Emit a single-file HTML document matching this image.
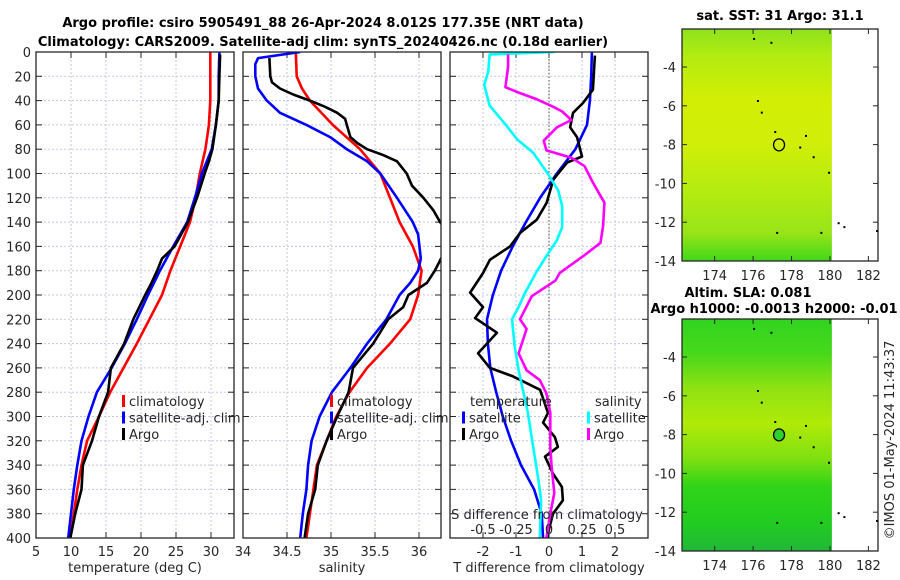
<!DOCTYPE html>
<html><head><meta charset="utf-8">
<style>
body{margin:0;background:#fff;}
svg{display:block;font-family:"DejaVu Sans","Liberation Sans",sans-serif;}
.tk{font-size:13px;fill:#262626;}
.tt{font-size:13px;font-weight:bold;fill:#000;}
</style></head>
<body>
<svg id="chart" width="900" height="580" viewBox="0 0 900 580" xmlns="http://www.w3.org/2000/svg">
<defs>
<linearGradient id="g1" x1="0" y1="0" x2="0" y2="1">
<stop offset="0" stop-color="#8ee21e"/><stop offset="0.12" stop-color="#b4ec10"/>
<stop offset="0.3" stop-color="#d2ee04"/><stop offset="0.5" stop-color="#d0ee08"/>
<stop offset="0.7" stop-color="#b4ec10"/><stop offset="0.88" stop-color="#98e418"/>
<stop offset="1" stop-color="#40d818"/></linearGradient>
<linearGradient id="g2" x1="0" y1="0" x2="0" y2="1">
<stop offset="0" stop-color="#30d420"/><stop offset="0.15" stop-color="#48d81a"/>
<stop offset="0.3" stop-color="#90e212"/><stop offset="0.45" stop-color="#b0ea08"/>
<stop offset="0.6" stop-color="#80e010"/><stop offset="0.72" stop-color="#30d418"/>
<stop offset="0.88" stop-color="#22cc20"/><stop offset="1" stop-color="#20b838"/></linearGradient>
</defs>
<text class="tt" x="323" y="27" text-anchor="middle">Argo profile: csiro 5905491_88 26-Apr-2024 8.012S 177.35E (NRT data)</text>
<text class="tt" x="323" y="46" text-anchor="middle">Climatology: CARS2009. Satellite-adj clim: synTS_20240426.nc (0.18d earlier)</text>
<g id="layer"></g>
<text class="tk" x="894" y="440" transform="rotate(-90 894 440)" text-anchor="middle">©IMOS 01-May-2024 11:43:37</text>
</svg>
<script>
// ---- data ----
const depthTicks=[0,20,40,60,80,100,120,140,160,180,200,220,240,260,280,300,320,340,360,380,400];
const stdDepth=[0,20,40,60,80,100,120,140,160,180,200,220,240,260,280,300,320,340,360,380,400];
const tempClim=[29.9,29.9,29.9,29.7,29.2,28.4,27.8,27.0,25.6,24.2,23.0,21.2,19.4,17.5,15.6,14.0,12.3,11.5,10.9,10.4,9.9];
const tempSat=[31.2,31.1,31.1,30.7,30.1,28.7,27.7,26.6,24.6,22.7,21.0,19.4,17.7,15.8,13.7,12.5,11.5,10.9,10.4,10.0,9.6];
const argoDepth=[2,20,40,60,80,90,100,120,140,160,170,180,190,200,220,240,260,280,300,320,340,360,380,400];
const tempArgo=[31.3,31.2,31.1,30.7,30.2,29.7,29.1,28.0,26.7,24.8,23.0,22.3,21.5,20.6,18.9,17.6,15.7,15.3,14.0,13.0,11.7,11.5,10.6,9.9];
const salClimDepth=[0,20,30,40,60,80,100,120,140,160,180,200,220,240,260,280,300,320,340,360,380,400];
const salClim=[34.60,34.61,34.67,34.76,35.02,35.33,35.56,35.67,35.78,35.93,36.03,35.99,35.90,35.67,35.41,35.21,35.06,34.95,34.84,34.80,34.76,34.72];
const salSatDepth=[0,5,10,20,30,40,50,60,70,80,90,100,120,140,150,170,180,190,200,220,240,260,280,300,320,340,360,380,400];
const salSat=[34.65,34.17,34.14,34.14,34.17,34.27,34.42,34.72,34.99,35.18,35.41,35.56,35.75,35.93,35.99,36.02,35.99,35.90,35.78,35.63,35.41,35.22,35.01,34.87,34.78,34.74,34.72,34.68,34.65];
const salArgoDepth=[5,20,25,30,35,40,45,50,55,60,70,75,80,85,90,100,110,120,130,140,150,160,170,180,190,200,210,220,240,260,280,300,320,340,360,380,400];
const salArgo=[34.30,34.31,34.33,34.42,34.57,34.76,34.93,35.07,35.16,35.18,35.22,35.30,35.41,35.60,35.75,35.86,35.92,36.05,36.16,36.24,36.35,36.38,36.25,36.18,36.09,35.88,35.82,35.65,35.48,35.25,35.20,35.07,34.95,34.85,34.82,34.74,34.70];
const dTsatDepth=[0,20,40,60,80,100,120,140,160,180,200,220,240,260,280,300,320,340,360,380,400];
const dTsat=[1.3,1.28,1.24,1.15,0.8,0.24,-0.27,-0.7,-1.1,-1.45,-1.7,-1.88,-1.85,-1.78,-1.6,-1.4,-1.15,-0.85,-0.45,-0.22,-0.18];
const dTargoDepth=[3,31,42,50,62,70,86,91,105,124,138,149,160,171,182,198,210,219,231,248,260,267,278,297,305,317,325,333,347,358,369,380,396,400];
const dTargo=[1.39,1.33,1.03,0.73,0.64,0.85,1.0,0.55,0.13,-0.07,-0.37,-0.88,-1.18,-1.79,-2.0,-2.39,-2.0,-2.24,-1.58,-2.15,-1.79,-1.09,-0.27,-0.03,-0.18,0.18,0.27,-0.12,0.12,0.39,0.42,0.12,-0.03,-0.03];
const dSsatDepth=[0,2,16,27,44,61,72,83,100,114,127,144,155,168,182,198,210,220,242,262,297,325,352,369,400];
const dSsat=[0.045,-0.45,-0.46,-0.49,-0.45,-0.32,-0.24,-0.12,-0.01,0.07,0.1,0.1,0.06,-0.02,-0.1,-0.18,-0.23,-0.28,-0.26,-0.23,-0.16,-0.12,-0.08,-0.06,-0.07];
const dSargoDepth=[2,12,29,33,39,45,49,56,62,73,81,87,94,107,124,143,157,168,182,188,201,220,228,248,262,270,281,297,325,341,363,380,400];
const dSargo=[-0.31,-0.31,-0.33,-0.24,-0.09,0.03,0.10,0.17,0.06,-0.04,-0.02,0.17,0.27,0.33,0.42,0.41,0.39,0.26,0.08,0.05,-0.13,-0.22,-0.17,-0.23,-0.17,-0.07,-0.02,0.01,0.01,0.02,0.04,0.01,-0.02];
const tTicks=[5,10,15,20,25,30];
const sTicks=[34,34.5,35,35.5,36];
const dtTicks=[-2,-1,0,1,2];
const dsTicks=[-0.5,-0.25,0,0.25,0.5];
const dsTickLabels=["-0.5","-0.25","0","0.25","0.5"];
const latTicks=[-4,-6,-8,-10,-12,-14];
const lonTicks=[174,176,178,180,182];
const argoLon=177.35, argoLat=-8.012;

// ---- helpers ----
const NS="http://www.w3.org/2000/svg";
const layer=document.getElementById('layer');
function mk(tag,attrs,parent,txt){const e=document.createElementNS(NS,tag);for(const k in attrs)e.setAttribute(k,attrs[k]);if(txt!==undefined)e.textContent=txt;(parent||layer).appendChild(e);return e;}
const Y0=52,Y1=538;
const yD=d=>Y0+d*(Y1-Y0)/400;
function lin(d0,d1,r0,r1){return v=>r0+(v-d0)*(r1-r0)/(d1-d0);}

function panel(name,x0,x1,xs,ticks,labels,xlabel,showY){
  const g=mk('g',{});
  
  
  depthTicks.forEach(d=>{const l=mk('line',{x1:x0,x2:x1,y1:yD(d),y2:yD(d),stroke:'#c4c8e8','stroke-width':1,'stroke-dasharray':'2,2'},g);
    mk('line',{x1:x0,x2:x0+6,y1:yD(d),y2:yD(d),stroke:'#262626'},g);mk('line',{x1:x1-6,x2:x1,y1:yD(d),y2:yD(d),stroke:'#262626'},g);
    if(showY){const t=mk('text',{class:'tk',x:x0-5,y:yD(d)+5,'text-anchor':'end'},g,String(d));}});
  ticks.forEach((v,i)=>{const x=xs(v);
    if(x>x0+1&&x<x1-1){const l=mk('line',{x1:x,x2:x,y1:Y0,y2:Y1,stroke:'#c4c8e8','stroke-dasharray':'2,2'},g);}
    mk('line',{x1:x,x2:x,y1:Y1,y2:Y1-6,stroke:'#262626'},g);mk('line',{x1:x,x2:x,y1:Y0,y2:Y0+6,stroke:'#262626'},g);
    const t=mk('text',{class:'tk',x:x,y:Y1+18,'text-anchor':'middle'},g,labels[i]);});
  const xl=mk('text',{class:'tk',x:(x0+x1)/2,y:Y1+34,'text-anchor':'middle'},g,xlabel);
  
  
  return g;
}
function frame(name,x0,x1){const r=mk('rect',{x:x0,y:Y0,width:x1-x0,height:Y1-Y0,fill:'none',stroke:'#262626','stroke-width':1.3});}
function series(name,depths,vals,xs,color,x0,x1,clipId){
  const pts=depths.map((d,i)=>xs(vals[i]).toFixed(1)+','+yD(d).toFixed(1)).join(' ');
  const p=mk('polyline',{points:pts,fill:'none',stroke:color,'stroke-width':2.6,'stroke-linejoin':'round','clip-path':'url(#'+clipId+')'});
  
  
}
function clip(id,x0,x1){const defs=document.querySelector('defs');const c=mk('clipPath',{id:id},defs);mk('rect',{x:x0,y:Y0,width:x1-x0,height:Y1-Y0},c);}
function legend(name,x,y,items){items.forEach((it,i)=>{const g=mk('g',{});
  mk('rect',{x:x,y:y+i*16.5-11,width:3,height:12,fill:it[0]},g);mk('text',{class:'tk',x:x+7,y:y+i*16.5},g,it[1]);});}

// panel 1 temperature
const xT=lin(5,30,36,211);
panel('temperature-panel',36,234,xT,tTicks,tTicks.map(String),'temperature (deg C)',true);
clip('c1',36,234);
series('temp-climatology-line',stdDepth,tempClim,xT,'#ff0000',36,234,'c1');
series('temp-satellite-line',stdDepth,tempSat,xT,'#0000ff',36,234,'c1');
series('temp-argo-line',argoDepth,tempArgo,xT,'#000000',36,234,'c1');
frame('temperature-axes',36,234);
legend('temp-legend',122,406,[['#ff0000','climatology'],['#0000ff','satellite-adj. clim'],['#000000','Argo']]);

// panel 2 salinity
const xS=lin(34,36,243,419);
panel('salinity-panel',243,441,xS,sTicks,sTicks.map(String),'salinity',false);
clip('c2',243,441);
series('sal-climatology-line',salClimDepth,salClim,xS,'#ff0000',243,441,'c2');
series('sal-satellite-line',salSatDepth,salSat,xS,'#0000ff',243,441,'c2');
series('sal-argo-line',salArgoDepth,salArgo,xS,'#000000',243,441,'c2');
frame('salinity-axes',243,441);
legend('sal-legend',330,406,[['#ff0000','climatology'],['#0000ff','satellite-adj. clim'],['#000000','Argo']]);

// panel 3 differences
const xDT=lin(-2,2,483,615);
const xDS=lin(-0.5,0.5,483,615);
panel('difference-panel',450,648,xDT,dtTicks,dtTicks.map(String),'T difference from climatology',false);
clip('c3',450,648);
const zl=mk('line',{x1:xDT(0),x2:xDT(0),y1:Y0,y2:Y1,stroke:'#505030','stroke-dasharray':'1.5,2','stroke-width':1});


series('dT-satellite-line',dTsatDepth,dTsat,xDT,'#0000ff',450,648,'c3');
series('dT-argo-line',dTargoDepth,dTargo,xDT,'#000000',450,648,'c3');
series('dS-satellite-line',dSsatDepth,dSsat,xDS,'#00ffff',450,648,'c3');
series('dS-argo-line',dSargoDepth,dSargo,xDS,'#ff00ff',450,648,'c3');
frame('difference-axes',450,648);
const lt=mk('text',{class:'tk',x:470,y:406},layer,'temperature');
const ls=mk('text',{class:'tk',x:595,y:406},layer,'salinity');
legend('dT-legend',462,422.5,[['#0000ff','satellite'],['#000000','Argo']]);
legend('dS-legend',587,422.5,[['#00ffff','satellite'],['#ff00ff','Argo']]);
const st=mk('text',{class:'tk',x:547,y:519,'text-anchor':'middle'},layer,'S difference from climatology');


dsTicks.forEach((v,i)=>{const t=mk('text',{class:'tk',x:xDS(v),y:534,'text-anchor':'middle'},layer,dsTickLabels[i]);});

// maps
const LON0=172.3,LON1=182.5,LAT0=-2.04,LAT1=-14;
function map(name,top,bot,grad,title1,filledCircle){
  const x0=682,x1=878;
  const xL=lin(LON0,LON1,x0,x1), yL=lin(LAT0,LAT1,top,bot);
  const g=mk('g',{});
  
  
  const f=mk('rect',{x:x0,y:top,width:xL(180.1)-x0,height:bot-top,fill:'url(#'+grad+')'},g);
  
  
  mk('rect',{x:x0,y:top,width:x1-x0,height:bot-top,fill:'none',stroke:'#262626','stroke-width':1.3},g);
  latTicks.forEach(v=>{mk('line',{x1:x0,x2:x0+5,y1:yL(v),y2:yL(v),stroke:'#262626'},g);mk('line',{x1:x1-5,x2:x1,y1:yL(v),y2:yL(v),stroke:'#262626'},g);
    const t=mk('text',{class:'tk',x:x0-6,y:yL(v)+5,'text-anchor':'end'},g,String(v));});
  lonTicks.forEach(v=>{mk('line',{x1:xL(v),x2:xL(v),y1:bot,y2:bot-5,stroke:'#262626'},g);mk('line',{x1:xL(v),x2:xL(v),y1:top,y2:top+5,stroke:'#262626'},g);
    const t=mk('text',{class:'tk',x:xL(v),y:bot+19,'text-anchor':'middle'},g,String(v));});
  const c=mk('ellipse',{cx:xL(argoLon),cy:yL(argoLat),rx:5.5,ry:6,fill:filledCircle?'#30d030':'none',stroke:'#000','stroke-width':1.3},g);
  
  
  [[176,-2.5],[176.9,-2.7],[176.2,-5.7],[176.4,-6.3],[177.1,-7.3],[178.7,-7.5],[178.4,-8.1],[179.1,-8.6],[179.9,-9.4],[177.2,-12.5],[179.5,-12.5],[180.4,-12.0],[180.7,-12.2],[182.4,-12.4]].forEach(p=>{
    const s=mk('rect',{x:xL(p[0]),y:yL(p[1]),width:2,height:2,fill:'#000'},g);});
  if(title1){const t=mk('text',{class:'tt',x:780,y:top-9,'text-anchor':'middle'},g,title1);}
}
map('sst-map',29,261,'g1','sat. SST: 31 Argo: 31.1',false);
map('sla-map',319,551,'g2',null,true);
const a1=mk('text',{class:'tt',x:748,y:297,'text-anchor':'middle'},layer,'Altim. SLA: 0.081');


const a2=mk('text',{class:'tt',x:774,y:313,'text-anchor':'middle'},layer,'Argo h1000: -0.0013 h2000: -0.01');


</script>
</body></html>
